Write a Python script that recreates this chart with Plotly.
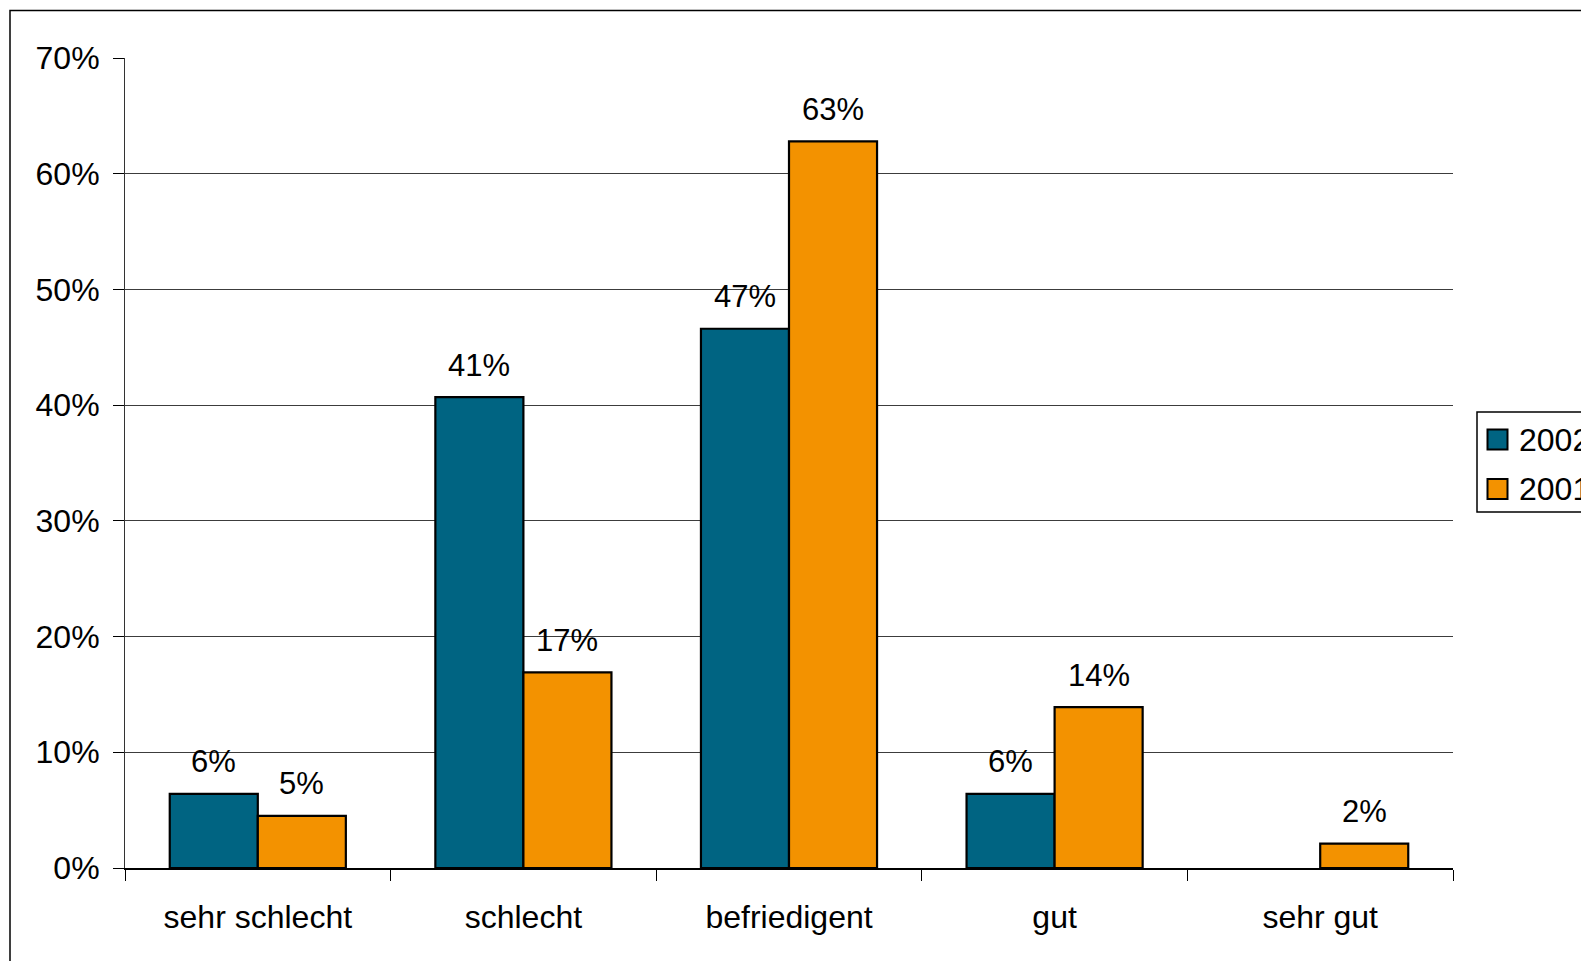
import plotly.graph_objects as go

categories = ["sehr schlecht", "schlecht", "befriedigent", "gut", "sehr gut"]
series_names = ["2002", "2001"]
values_2002 = [6.4, 40.7, 46.6, 6.4, None]
values_2001 = [4.5, 16.9, 62.8, 13.9, 2.1]
labels_2002 = ["6%", "41%", "47%", "6%", ""]
labels_2001 = ["5%", "17%", "63%", "14%", "2%"]
y_ticks = [0, 10, 20, 30, 40, 50, 60, 70]
y_tick_labels = ["0%", "10%", "20%", "30%", "40%", "50%", "60%", "70%"]

COL_2002 = "#006482"
COL_2001 = "#F39200"
FONT = "Liberation Sans, Arial, sans-serif"
FS = 31
FS_AX = 32

W, H = 1581, 961
L, R, T, B = 125, 1453, 58, 868


def px(x):
    return (x - L) / (R - L)


def py(y):
    return (B - y) / (B - T)


fig = go.Figure()
fig.add_trace(go.Bar(x=categories, y=values_2002, name=series_names[0],
                     marker=dict(color=COL_2002, line=dict(color="black", width=2.2)),
                     showlegend=False))
fig.add_trace(go.Bar(x=categories, y=values_2001, name=series_names[1],
                     marker=dict(color=COL_2001, line=dict(color="black", width=2.2)),
                     showlegend=False))

annotations = []
for cat, v, t in zip(categories, values_2002, labels_2002):
    if v is not None and t:
        annotations.append(dict(x=cat, y=v, xref="x", yref="y", text=t, showarrow=False,
                                xshift=-44, yshift=32, yanchor="middle",
                                font=dict(family=FONT, size=FS, color="black")))
for cat, v, t in zip(categories, values_2001, labels_2001):
    if v is not None and t:
        annotations.append(dict(x=cat, y=v, xref="x", yref="y", text=t, showarrow=False,
                                xshift=44, yshift=32, yanchor="middle",
                                font=dict(family=FONT, size=FS, color="black")))

# manual legend
shapes = [
    dict(type="rect", xref="paper", yref="paper", x0=px(10), x1=px(1700), y0=py(1100), y1=py(10.5),
         line=dict(color="black", width=1.5), fillcolor="rgba(0,0,0,0)", layer="below"),
    dict(type="rect", xref="paper", yref="paper", x0=px(1477), x1=px(1700), y0=py(512), y1=py(412),
         line=dict(color="black", width=1.5), fillcolor="white"),
]
for i, (name, col) in enumerate(zip(series_names, [COL_2002, COL_2001])):
    yc = 439.5 + 49.5 * i
    shapes.append(dict(type="rect", xref="paper", yref="paper", x0=px(1487.5), x1=px(1507.5),
                       y0=py(yc + 10), y1=py(yc - 10), line=dict(color="black", width=2), fillcolor=col))
    annotations.append(dict(x=px(1517), y=py(yc), xref="paper", yref="paper", text=name,
                            showarrow=False, xanchor="left", yanchor="middle",
                            font=dict(family=FONT, size=FS_AX, color="black")))

fig.update_layout(
    width=W, height=H,
    margin=dict(l=L, r=W - R, t=T, b=H - B),
    paper_bgcolor="white", plot_bgcolor="white",
    barmode="group", bargap=0.337, bargroupgap=0,
    font=dict(family=FONT, size=FS_AX, color="black"),
    annotations=annotations, shapes=shapes,
    showlegend=False,
)
fig.update_xaxes(type="category", tickson="boundaries", ticks="outside", ticklen=11,
                 tickcolor="black", tickwidth=1, showline=True, linecolor="black", linewidth=1.5,
                 showgrid=False, tickfont=dict(family=FONT, size=FS_AX, color="black"),
                 ticklabelstandoff=20)
fig.update_yaxes(range=[0, 70], tickvals=y_ticks, ticktext=y_tick_labels, ticks="outside",
                 ticklen=11, tickcolor="black", tickwidth=1, showline=True, linecolor="#333333",
                 linewidth=1, showgrid=True, gridcolor="#3c3c3c", gridwidth=1, zeroline=False,
                 tickfont=dict(family=FONT, size=FS_AX, color="black"), ticklabelstandoff=7)

fig.write_html("out.html", config={"displayModeBar": False},
               post_script="document.body.style.margin='0';document.body.style.overflow='hidden';")
